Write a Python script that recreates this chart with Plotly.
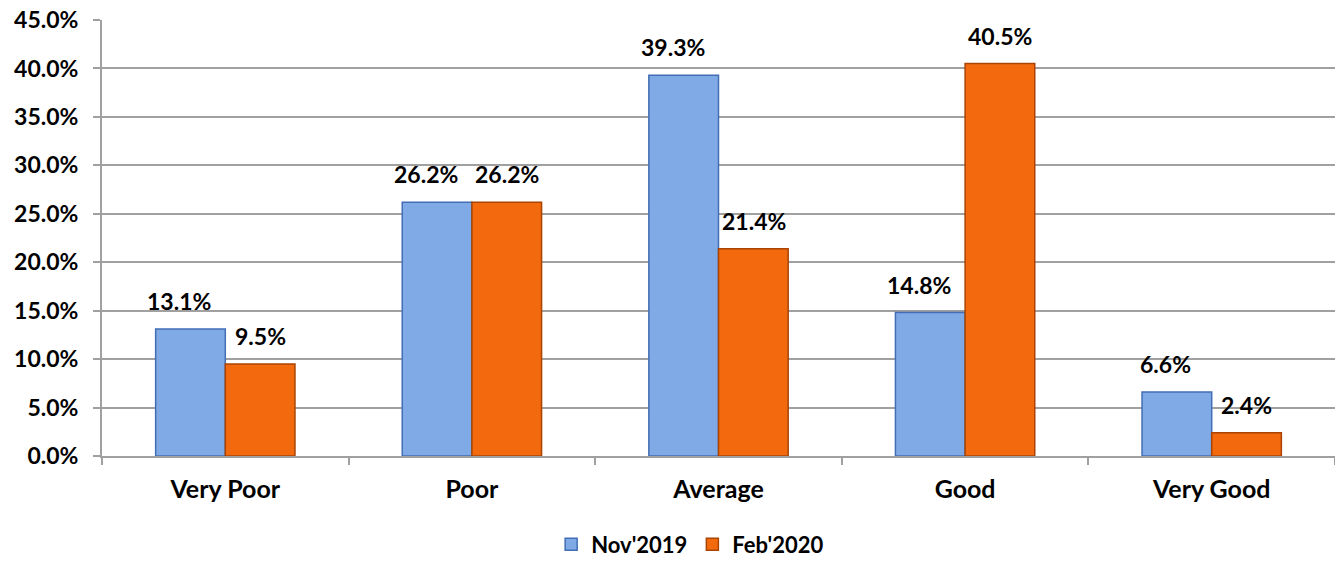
import plotly.graph_objects as go

categories = ["Very Poor", "Poor", "Average", "Good", "Very Good"]
nov_2019 = [13.1, 26.2, 39.3, 14.8, 6.6]
feb_2020 = [9.5, 26.2, 21.4, 40.5, 2.4]
series_names = ["Nov'2019", "Feb'2020"]
y_tick_values = [0, 5, 10, 15, 20, 25, 30, 35, 40, 45]
y_tick_labels = [f"{v:.1f}%" for v in y_tick_values]

FONT = "Lato, Carlito, Calibri, 'Open Sans', sans-serif"
GRID = "#A0A0A0"
SIZE = 23

fig = go.Figure()
fig.add_trace(go.Bar(
    x=categories, y=nov_2019, name=series_names[0],
    marker=dict(color="#80AAE6", line=dict(color="#416EB4", width=1.5)),
))
fig.add_trace(go.Bar(
    x=categories, y=feb_2020, name=series_names[1],
    marker=dict(color="#F36A0E", line=dict(color="#A94405", width=1.5)),
))

# value labels above each bar
for vals, shift in ((nov_2019, -46), (feb_2020, 35)):
    for cat, v in zip(categories, vals):
        fig.add_annotation(
            x=cat, y=v, text=f"{v:.1f}%", showarrow=False,
            xshift=shift, yshift=28, yanchor="middle",
            font=dict(family=FONT, size=SIZE, color="#000000", weight=700),
        )

fig.update_layout(
    width=1335, height=561,
    margin=dict(l=102, r=0, t=20, b=105, autoexpand=False),
    paper_bgcolor="white", plot_bgcolor="white",
    barmode="group", bargap=0.435, bargroupgap=0,
    font=dict(family=FONT, size=SIZE, color="#000000", weight=700),
    legend=dict(
        orientation="h", x=0.477, xanchor="center", y=-0.203, yanchor="middle",
        font=dict(family=FONT, size=22, weight=700), itemwidth=30,
    ),
    xaxis=dict(
        showline=True, linecolor=GRID, linewidth=2, automargin=False,
        ticks="outside", ticklen=7, tickcolor=GRID, tickwidth=1.5,
        tickson="boundaries", showgrid=False, ticklabelstandoff=10,
        tickfont=dict(family=FONT, size=25, weight=700),
    ),
    yaxis=dict(
        range=[0, 45], tickvals=y_tick_values, ticktext=y_tick_labels,
        showline=True, linecolor=GRID, linewidth=2, automargin=False,
        ticks="outside", ticklen=7, tickcolor=GRID, tickwidth=1.5,
        showgrid=True, gridcolor=GRID, gridwidth=1.5,
        zeroline=False, ticklabelstandoff=10,
        tickfont=dict(family=FONT, size=SIZE, weight=700),
    ),
)

fig.write_html("out.html")
